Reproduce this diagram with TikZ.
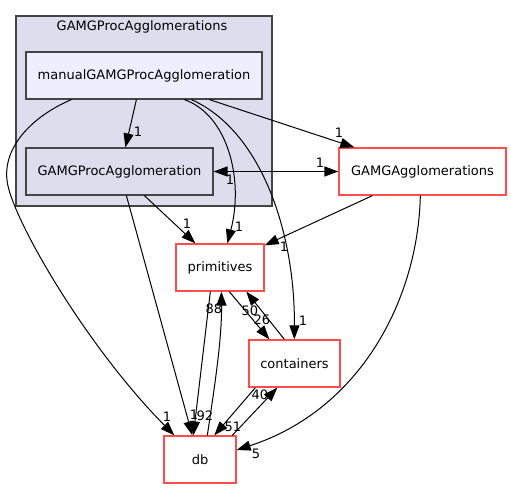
\documentclass[tikz,border=0pt]{standalone}
\usepackage{fontspec}
\setmainfont{DejaVu Sans}
\usetikzlibrary{arrows.meta,calc}
\definecolor{clfill}{HTML}{DDDDEE}
\definecolor{mfill}{HTML}{EEEEFF}
\definecolor{dgray}{HTML}{444444}
\definecolor{rborder}{HTML}{FF4D4D}
\tikzset{
  base/.style={inner sep=0pt, font=\fontsize{9.75}{11}\selectfont, minimum height=35.25pt},
  graybox/.style={base, draw=dgray, line width=0.9pt},
  redbox/.style={base, draw=rborder, fill=white, line width=1pt},
  lbl/.style={inner sep=0pt, font=\fontsize{9.75}{11}\selectfont},
  edge/.style={draw=black, line width=0.75pt},
  arr/.style={edge, -{Triangle[length=10.5pt,width=7.5pt]}},
  barr/.style={edge, line width=1.1pt, {Triangle[length=10.5pt,width=7.5pt]}-{Triangle[length=10.5pt,width=7.5pt]}}
}
\begin{document}
\begin{tikzpicture}[x=0.75pt,y=-0.75pt]
\useasboundingbox (0,0) rectangle (511,489);
% cluster
\node[draw=dgray, fill=clfill, line width=0.9pt, minimum width=192pt, minimum height=142.5pt, inner sep=0pt] (cluster) at (144,111) {};
\node[lbl] (clusterlbl) at (142,27) {GAMGProcAgglomerations};
% nodes
\node[graybox, fill=mfill, minimum width=177pt] (manual) at (144,75.5) {manualGAMGProcAgglomeration};
\node[graybox, fill=clfill, minimum width=140.25pt] (gpa) at (119.5,171.5) {GAMGProcAgglomeration};
\node[redbox, minimum width=125.25pt] (gaggl) at (422.5,171.5) {GAMGAgglomerations};
\node[redbox, minimum width=66pt] (prim) at (220,267.5) {primitives};
\node[redbox, minimum width=68.25pt] (cont) at (294.5,363.5) {containers};
\node[redbox, minimum width=54pt] (db) at (200,459.5) {db};
% edges
\draw[arr] ($(manual.south west)+(111,0)$) -- ($(gpa.north west)+(100,0)$);
\draw[arr] ($(manual.south west)+(184,0)$) -- ($(gaggl.north west)+(16,0)$);
\draw[barr] (gpa.east) -- (gaggl.west);
\draw[arr] ($(manual.south west)+(159,0)$) .. controls (228,115) and (244,180) .. ($(prim.north west)+(52,0)$);
\draw[arr] ($(gpa.south west)+(119,0)$) -- ($(prim.north west)+(20,0)$);
\draw[arr] ($(gaggl.south west)+(34,0)$) -- ($(prim.north east)+(0,2)$);
\draw[arr] ($(manual.south west)+(166,0)$) .. controls (260,130) and (295,230) .. ($(cont.north west)+(46,0)$);
\draw[arr] ($(manual.south west)+(46,0)$) .. controls (35,115) and (3,145) .. (7,180) .. controls (10,215) and (85,345) .. ($(db.north west)+(11,0)$);
\draw[arr] ($(gpa.south west)+(101,0)$) -- ($(db.north west)+(29,0)$);
\draw[arr] ($(prim.south west)+(35,0)$) -- ($(db.north west)+(30,0)$);
\draw[arr] ($(db.north west)+(44,0)$) .. controls (214,390) and (222,340) .. ($(prim.south west)+(46,0)$);
\draw[arr] ($(prim.south west)+(54,0)$) -- ($(cont.north west)+(21,0)$);
\draw[arr] ($(cont.north west)+(36,0)$) -- ($(prim.south west)+(71,0)$);
\draw[arr] ($(cont.south west)+(7,0)$) -- ($(db.north west)+(51,0)$);
\draw[arr] ($(db.north west)+(69,0)$) -- ($(cont.south west)+(29,0)$);
\draw[arr] ($(gaggl.south west)+(82,0)$) .. controls (418,300) and (360,410) .. ($(db.east)+(0,-9.5)$);
% labels
\node[lbl] (l1) at (138,132) {1};
\node[lbl] (l2) at (339,133) {1};
\node[lbl] (l3) at (320,163) {1};
\node[lbl] (l4) at (230,180) {1};
\node[lbl] (l5) at (239,227) {1};
\node[lbl] (l6) at (187,224) {1};
\node[lbl] (l7) at (284,247) {1};
\node[lbl] (l8) at (303,321) {1};
\node[lbl] (l9) at (167,417) {1};
\node[lbl] (l10) at (194,415) {1};
\node[lbl] (l11) at (205,416) {92};
\node[lbl] (l12) at (214,309) {88};
\node[lbl] (l13) at (262,320) {26};
\node[lbl] (l14) at (250,311) {50};
\node[lbl] (l15) at (260,395) {40};
\node[lbl] (l16) at (233,427) {51};
\node[lbl] (l17) at (256,454) {5};
\end{tikzpicture}
\end{document}
